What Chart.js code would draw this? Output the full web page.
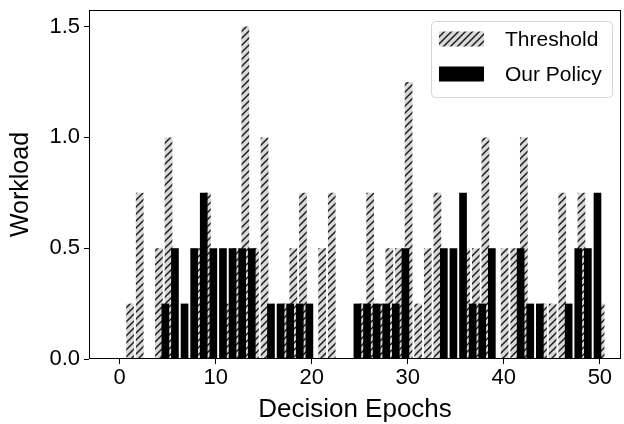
<!DOCTYPE html>
<html lang="en">
<head>
    <meta charset="UTF-8">
    <title>Workload per Decision Epoch</title>
    <script src="https://cdn.jsdelivr.net/npm/chart.js"></script>
    <style>
        html, body { margin: 0; padding: 0; background: #fff; }
    </style>
</head>
<body>
    <canvas id="workloadChart" width="624" height="424"></canvas>

    <script>
        // data
        const epochs = [0, 1, 2, 3, 4, 5, 6, 7, 8, 9, 10, 11, 12, 13, 14, 15, 16, 17, 18, 19, 20,
            21, 22, 23, 24, 25, 26, 27, 28, 29, 30, 31, 32, 33, 34, 35, 36, 37, 38, 39, 40,
            41, 42, 43, 44, 45, 46, 47, 48, 49, 50];
        const thresholdLoad = [0, 0.25, 0.75, 0, 0.5, 1.0, 0, 0, 0.5, 0.75, 0, 0.25, 0.5, 1.5, 0.5, 1.0, 0, 0.25, 0.5, 0.75, 0,
            0.5, 0.75, 0, 0, 0.25, 0.75, 0.25, 0.5, 0.5, 1.25, 0.25, 0.5, 0.75, 0, 0, 0.5, 0.5, 1.0, 0, 0.5,
            0.5, 1.0, 0, 0.25, 0.25, 0.75, 0, 0.75, 0, 0.25];
        const policyLoad = [0, 0, 0, 0, 0, 0.25, 0.5, 0.25, 0.5, 0.75, 0.5, 0.5, 0.5, 0.5, 0.5, 0, 0.25, 0.25, 0.25, 0.25, 0.25,
            0, 0, 0, 0, 0.25, 0.25, 0.25, 0.25, 0.25, 0.5, 0, 0, 0, 0.5, 0.5, 0.75, 0.25, 0.25, 0.5, 0,
            0, 0.5, 0.25, 0.25, 0, 0, 0.25, 0.5, 0.5, 0.75];
        const xTicks = [0, 10, 20, 30, 40, 50];
        const yTicks = [0, 0.5, 1.0, 1.5];

        const xMin = -3.2, xMax = 52.2;
        const thrShift = 0.08;   // hatched bars sit a bit right of the epoch
        const polShift = -0.25;  // black bars sit left of it

        Chart.defaults.font.family = "'Liberation Sans', Arial, sans-serif";
        Chart.defaults.color = '#000';

        function makeHatch() {
            const s = 7;
            const c = document.createElement('canvas');
            c.width = s; c.height = s;
            const g = c.getContext('2d');
            g.fillStyle = '#d9d9d9';
            g.fillRect(0, 0, s, s);
            g.strokeStyle = '#1e1e1e';
            g.lineWidth = 1.5;
            g.beginPath();
            g.moveTo(0, s); g.lineTo(s, 0);
            g.moveTo(-1, 1); g.lineTo(1, -1);
            g.moveTo(s - 1, s + 1); g.lineTo(s + 1, s - 1);
            g.stroke();
            return g.createPattern(c, 'repeat');
        }

        // frame round the plot area
        const frame = {
            id: 'frame',
            afterDatasetsDraw(chart) {
                const { ctx, chartArea: a } = chart;
                ctx.save();
                ctx.strokeStyle = '#000';
                ctx.lineWidth = 1;
                ctx.strokeRect(Math.round(a.left) + 0.5, Math.round(a.top) + 0.5,
                    Math.round(a.right - a.left) - 1, Math.round(a.bottom - a.top) - 1);
                ctx.restore();
            }
        };

        // matplotlib style legend in the upper right corner
        const boxLegend = {
            id: 'boxLegend',
            afterDraw(chart) {
                const { ctx, chartArea: a } = chart;
                const w = 181, h = 76;
                const right = a.right - 9, top = a.top + 11;
                const left = right - w;
                ctx.save();
                ctx.beginPath();
                ctx.roundRect(left + 0.5, top + 0.5, w, h, 4);
                ctx.fillStyle = 'rgba(255,255,255,0.8)';
                ctx.fill();
                ctx.strokeStyle = '#d6d6d6';
                ctx.lineWidth = 1;
                ctx.stroke();
                ctx.font = "21px 'Liberation Sans', Arial, sans-serif";
                ctx.textBaseline = 'middle';
                chart.data.datasets.forEach((ds, i) => {
                    const cy = top + 18 + i * 35;
                    ctx.fillStyle = ds.backgroundColor;
                    ctx.fillRect(left + 8, cy - 7.5, 45, 15);
                    ctx.fillStyle = '#000';
                    ctx.fillText(ds.label, left + 74, cy + 1);
                });
                ctx.restore();
            }
        };

        const hiddenX = (shift) => ({
            type: 'linear', display: false, offset: false,
            grid: { offset: false },
            min: xMin - shift, max: xMax - shift
        });

        const ctx = document.getElementById('workloadChart').getContext('2d');
        new Chart(ctx, {
            type: 'bar',
            data: {
                datasets: [{
                    label: 'Threshold',
                    data: epochs.map((e, i) => ({ x: e, y: thresholdLoad[i] })),
                    xAxisID: 'xThr',
                    backgroundColor: makeHatch(),
                    order: 2
                }, {
                    label: 'Our Policy',
                    data: epochs.map((e, i) => ({ x: e, y: policyLoad[i] })),
                    xAxisID: 'xPol',
                    backgroundColor: '#000',
                    order: 1
                }]
            },
            options: {
                responsive: false,
                animation: false,
                devicePixelRatio: 1,
                datasets: {
                    bar: { grouped: false, borderWidth: 0, barPercentage: 0.8, categoryPercentage: 1.0 }
                },
                layout: { padding: { top: 10, right: 3, left: 0, bottom: 0 } },
                plugins: {
                    legend: { display: false },
                    tooltip: { enabled: false }
                },
                scales: {
                    x: {
                        type: 'linear',
                        position: 'bottom',
                        offset: false,
                        min: xMin,
                        max: xMax,
                        afterBuildTicks: s => { s.ticks = xTicks.map(v => ({ value: v })); },
                        afterFit: s => { s.height = 65; s.paddingLeft = 0; s.paddingRight = 0; },
                        grid: { offset: false, drawOnChartArea: false, drawTicks: true, tickLength: 5, color: '#000' },
                        border: { display: false },
                        ticks: { font: { size: 22 }, padding: 1, autoSkip: false, maxRotation: 0 },
                        title: { display: true, text: 'Decision Epochs', font: { size: 26 }, padding: { top: 0, bottom: -1 } }
                    },
                    xThr: hiddenX(thrShift),
                    xPol: hiddenX(polShift),
                    y: {
                        min: 0,
                        max: 1.575,
                        afterBuildTicks: s => { s.ticks = yTicks.map(v => ({ value: v })); },
                        afterFit: s => { s.width = 89; s.paddingTop = 0; s.paddingBottom = 0; },
                        grid: { drawOnChartArea: false, drawTicks: true, tickLength: 5, color: '#000' },
                        border: { display: false },
                        ticks: { font: { size: 22 }, padding: 4, callback: v => v.toFixed(1) },
                        title: { display: true, text: 'Workload', font: { size: 25 }, padding: { top: 6, bottom: 0 } }
                    }
                }
            },
            plugins: [frame, boxLegend]
        });
    </script>
</body>
</html>
